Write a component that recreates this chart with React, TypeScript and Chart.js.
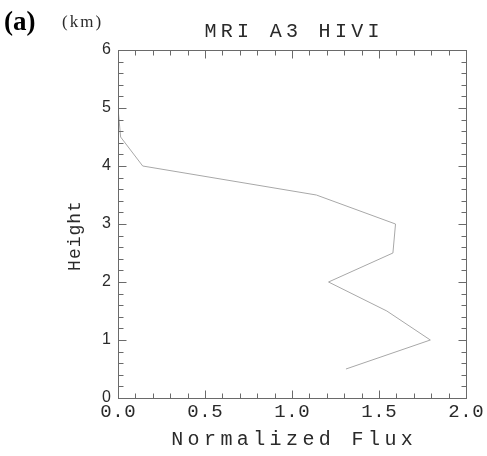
import React, { useEffect, useRef } from "react";
import { Chart, registerables } from "chart.js";

Chart.register(...registerables);

// Data
const heights = [0.5, 1.0, 1.5, 2.0, 2.5, 3.0, 3.5, 4.0, 4.5, 5.0];
const flux = [1.31, 1.795, 1.545, 1.21, 1.58, 1.595, 1.14, 0.142, 0.015, 0.0];

const xRange = [0, 2];
const yRange = [0, 6];
const xMajorStep = 0.5;
const yMajorStep = 1;
const xMinorDivisions = 20;
const yMinorDivisions = 30;

const titleText = "MRI A3 HIVI";
const xTitleText = "Normalized Flux";
const yTitleText = "Height";
const panelText = "(a)";
const unitText = "(km)";

const AXIS_COLOR = "#6a6a6a";
const TEXT_COLOR = "#2a2a2a";
const LINE_COLOR = "#a8a8a8";

function drawSpaced(ctx: CanvasRenderingContext2D, text: string, cx: number, y: number, spacing: number) {
  (ctx as any).letterSpacing = spacing + "px";
  ctx.textAlign = "left";
  const w = ctx.measureText(text).width;
  ctx.fillText(text, cx - (w - spacing) / 2, y);
  (ctx as any).letterSpacing = "0px";
}

const framePlugin = {
  id: "frameAndText",
  afterDraw(chart: any) {
    const ctx: CanvasRenderingContext2D = chart.ctx;
    const { left, right, top, bottom } = chart.chartArea;
    const xs = chart.scales.x;
    const ys = chart.scales.y;
    ctx.save();
    ctx.strokeStyle = AXIS_COLOR;
    ctx.lineWidth = 1;
    const L = Math.round(left) + 0.5;
    const R = Math.round(right) + 0.5;
    const T = Math.round(top) + 0.5;
    const B = Math.round(bottom) + 0.5;
    ctx.strokeRect(L, T, R - L, B - T);

    const majorLen = 8;
    const minorLen = 5;
    ctx.beginPath();
    for (let i = 0; i <= xMinorDivisions; i++) {
      const v = xs.min + (i * (xs.max - xs.min)) / xMinorDivisions;
      const isMajor = Math.abs(v / xMajorStep - Math.round(v / xMajorStep)) < 1e-6;
      const len = isMajor ? majorLen : minorLen;
      const px = Math.round(xs.getPixelForValue(v)) + 0.5;
      ctx.moveTo(px, B);
      ctx.lineTo(px, B - len);
      ctx.moveTo(px, T);
      ctx.lineTo(px, T + len);
    }
    for (let i = 0; i <= yMinorDivisions; i++) {
      const v = ys.min + (i * (ys.max - ys.min)) / yMinorDivisions;
      const isMajor = Math.abs(v / yMajorStep - Math.round(v / yMajorStep)) < 1e-6;
      const len = isMajor ? majorLen : minorLen;
      const py = Math.round(ys.getPixelForValue(v)) + 0.5;
      ctx.moveTo(L, py);
      ctx.lineTo(L + len, py);
      ctx.moveTo(R, py);
      ctx.lineTo(R - len, py);
    }
    ctx.stroke();

    ctx.fillStyle = TEXT_COLOR;
    // x tick labels
    ctx.font = "19px 'Liberation Mono'";
    ctx.textBaseline = "alphabetic";
    xs.ticks.forEach((t: any) => {
      const px = xs.getPixelForValue(t.value);
      drawSpaced(ctx, Number(t.value).toFixed(1), px, 417, 0.6);
    });
    // y tick labels
    ctx.font = "16px 'Liberation Sans'";
    ctx.textAlign = "right";
    ctx.textBaseline = "middle";
    ys.ticks.forEach((t: any) => {
      const py = ys.getPixelForValue(t.value);
      ctx.fillText(String(Math.round(t.value)), 111, py);
    });
    ctx.textBaseline = "alphabetic";

    // titles
    ctx.font = "20px 'Liberation Mono'";
    drawSpaced(ctx, titleText, (left + right) / 2, 37, 4.3);
    drawSpaced(ctx, xTitleText, (left + right) / 2, 445, 4.4);

    ctx.save();
    ctx.translate(80, (top + bottom) / 2 + 12);
    ctx.rotate(-Math.PI / 2);
    ctx.font = "18px 'Liberation Mono'";
    drawSpaced(ctx, yTitleText, 0, 0, 1.0);
    ctx.restore();

    ctx.fillStyle = "#000";
    ctx.font = "bold 27px 'Liberation Serif'";
    ctx.textAlign = "left";
    ctx.fillText(panelText, 4, 30);

    ctx.fillStyle = TEXT_COLOR;
    ctx.font = "17px 'Liberation Serif'";
    (ctx as any).letterSpacing = "2px";
    ctx.fillText(unitText, 62, 27);
    (ctx as any).letterSpacing = "0px";

    ctx.restore();
  },
};

export default function App() {
  const ref = useRef<HTMLCanvasElement | null>(null);
  useEffect(() => {
    if (!ref.current) return;
    const chart = new Chart(ref.current, {
      type: "scatter",
      data: {
        datasets: [
          {
            data: flux.map((f, i) => ({ x: f, y: heights[i] })),
            showLine: true,
            borderColor: LINE_COLOR,
            borderWidth: 1,
            pointRadius: 0,
            fill: false,
          },
        ],
      },
      options: {
        animation: false,
        responsive: false,
        maintainAspectRatio: false,
        events: [],
        layout: { padding: { top: 50, right: 21, left: 0, bottom: 0 } },
        plugins: { legend: { display: false }, tooltip: { enabled: false } },
        scales: {
          x: {
            type: "linear",
            min: xRange[0],
            max: xRange[1],
            ticks: { display: false, stepSize: xMajorStep },
            grid: { display: false },
            border: { display: false },
            afterFit: (s: any) => {
              s.height = 58;
            },
          },
          y: {
            type: "linear",
            min: yRange[0],
            max: yRange[1],
            ticks: { display: false, stepSize: yMajorStep },
            grid: { display: false },
            border: { display: false },
            afterFit: (s: any) => {
              s.width = 118;
            },
          },
        },
      },
      plugins: [framePlugin],
    } as any);
    return () => chart.destroy();
  }, []);
  return (
    <div style={{ position: "fixed", left: 0, top: 0, width: 487, height: 456, background: "#fff" }}>
      <canvas ref={ref} width={487} height={456} style={{ display: "block" }} />
    </div>
  );
}
